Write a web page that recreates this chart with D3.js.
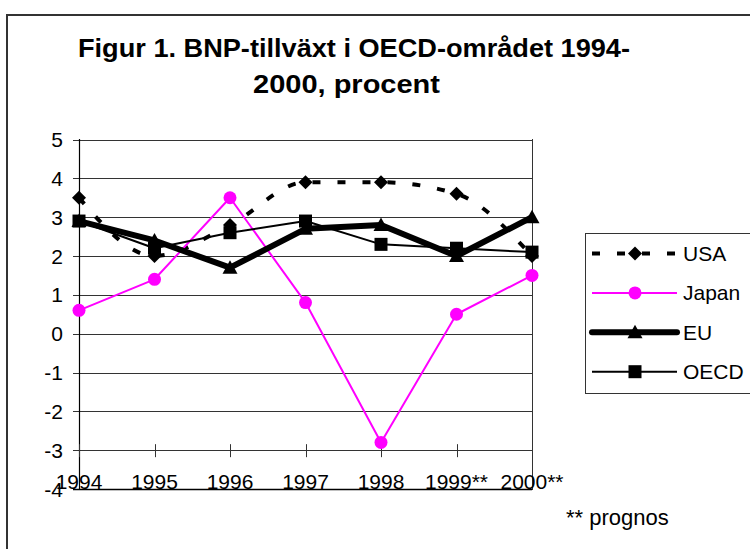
<!DOCTYPE html>
<html>
<head>
<meta charset="utf-8">
<script src="https://cdn.jsdelivr.net/npm/d3@7"></script>
<style>
  html, body { margin: 0; padding: 0; background: #fff; overflow: hidden; }
  svg { display: block; font-family: Arial, "Liberation Sans", sans-serif; }
</style>
</head>
<body>
<svg width="750" height="549"></svg>
<script>
// data
var years = ["1994", "1995", "1996", "1997", "1998", "1999**", "2000**"];
var usa   = [3.5, 2.0, 2.8, 3.9, 3.9, 3.6, 2.0];
var japan = [0.6, 1.4, 3.5, 0.8, -2.8, 0.5, 1.5];
var eu    = [2.9, 2.4, 1.7, 2.7, 2.8, 2.0, 3.0];
var oecd  = [2.9, 2.2, 2.6, 2.9, 2.3, 2.2, 2.1];
var yTicks = [-4, -3, -2, -1, 0, 1, 2, 3, 4, 5];
var titleLines = ["Figur 1. BNP-tillväxt i OECD-området 1994-", "2000, procent"];
var note = "** prognos";

var series = [
  { name: "USA",   values: usa,   color: "#000", width: 4, dash: "8,17", marker: "diamond", smooth: true },
  { name: "Japan", values: japan, color: "#ff00ff", width: 2, dash: null, marker: "circle" },
  { name: "EU",    values: eu,    color: "#000", width: 6, dash: null, marker: "triangle" },
  { name: "OECD",  values: oecd,  color: "#000", width: 2, dash: null, marker: "square" }
];

var svg = d3.select("svg");

// outer chart frame
svg.append("rect")
  .attr("x", 7).attr("y", 15).attr("width", 760).attr("height", 560)
  .attr("fill", "none").attr("stroke", "#333").attr("stroke-width", 2);

// title (two lines, stretched like the original)
svg.append("text")
  .attr("x", 78).attr("y", 57)
  .attr("font-size", 25).attr("font-weight", "bold")
  .attr("textLength", 552).attr("lengthAdjust", "spacingAndGlyphs")
  .text(titleLines[0]);
svg.append("text")
  .attr("x", 253).attr("y", 93)
  .attr("font-size", 25).attr("font-weight", "bold")
  .attr("textLength", 187).attr("lengthAdjust", "spacingAndGlyphs")
  .text(titleLines[1]);

var x = d3.scalePoint().domain(years).range([79, 532]);
var y = d3.scaleLinear().domain([-4, 5]).range([489, 139.5]);

// gridlines + y tick marks
svg.append("g").selectAll("line")
  .data(yTicks)
  .enter().append("line")
  .attr("x1", 73).attr("x2", 532)
  .attr("y1", function(d) { return Math.round(y(d)) + 0.5; })
  .attr("y2", function(d) { return Math.round(y(d)) + 0.5; })
  .attr("stroke", function(d) { return d === -4 ? "#000" : "#333"; })
  .attr("stroke-width", function(d) { return d === -4 ? 1.6 : 1; });

// y labels
svg.append("g").selectAll("text")
  .data(yTicks)
  .enter().append("text")
  .attr("x", 63)
  .attr("y", function(d) { return y(d); })
  .attr("dy", "0.36em")
  .attr("text-anchor", "end")
  .attr("font-size", 21)
  .text(function(d) { return d; });

// plot frame: left axis and right border
svg.append("line")
  .attr("x1", 79.5).attr("x2", 79.5).attr("y1", 139).attr("y2", 490)
  .attr("stroke", "#000").attr("stroke-width", 1.2);
svg.append("line")
  .attr("x1", 532.5).attr("x2", 532.5).attr("y1", 139).attr("y2", 490)
  .attr("stroke", "#333").attr("stroke-width", 1);

// category axis crosses at -3
svg.append("g").selectAll("line")
  .data(years)
  .enter().append("line")
  .attr("x1", function(d) { return Math.round(x(d)) + 0.5; })
  .attr("x2", function(d) { return Math.round(x(d)) + 0.5; })
  .attr("y1", y(-3) - 6).attr("y2", y(-3) + 7)
  .attr("stroke", "#333");

svg.append("g").selectAll("text")
  .data(years)
  .enter().append("text")
  .attr("x", function(d) { return x(d); })
  .attr("y", 489)
  .attr("text-anchor", "middle")
  .attr("font-size", 21)
  .text(function(d) { return d; });

// markers
function drawMarker(g, type, cx, cy, color) {
  if (type === "diamond") {
    g.append("path")
      .attr("d", "M" + cx + "," + (cy - 7) + "L" + (cx + 7) + "," + cy + "L" + cx + "," + (cy + 7) + "L" + (cx - 7) + "," + cy + "Z")
      .attr("fill", color);
  } else if (type === "circle") {
    g.append("circle").attr("cx", cx).attr("cy", cy).attr("r", 6.5).attr("fill", color);
  } else if (type === "triangle") {
    g.append("path")
      .attr("d", "M" + cx + "," + (cy - 7.5) + "L" + (cx + 7.5) + "," + (cy + 6) + "L" + (cx - 7.5) + "," + (cy + 6) + "Z")
      .attr("fill", color);
  } else if (type === "square") {
    g.append("rect").attr("x", cx - 6.5).attr("y", cy - 6.5).attr("width", 13).attr("height", 13).attr("fill", color);
  }
}

series.forEach(function(s) {
  var line = d3.line()
    .x(function(d, i) { return x(years[i]); })
    .y(function(d) { return y(d); })
    .curve(s.smooth ? d3.curveMonotoneX : d3.curveLinear);
  var g = svg.append("g");
  g.append("path")
    .attr("d", line(s.values))
    .attr("fill", "none")
    .attr("stroke", s.color)
    .attr("stroke-width", s.width)
    .attr("stroke-dasharray", s.dash)
    .attr("stroke-linejoin", "round");
  s.values.forEach(function(v, i) {
    drawMarker(g, s.marker, x(years[i]), y(v), s.color);
  });
});

// legend
var lg = svg.append("g");
lg.append("rect")
  .attr("x", 585.5).attr("y", 233.5).attr("width", 175).attr("height", 160)
  .attr("fill", "#fff").attr("stroke", "#333").attr("stroke-width", 1);
series.forEach(function(s, i) {
  var ly = 253.5 + i * 39.4;
  lg.append("line")
    .attr("x1", 592).attr("x2", 677).attr("y1", ly).attr("y2", ly)
    .attr("stroke", s.color).attr("stroke-width", s.width)
    .attr("stroke-dasharray", s.dash)
    .attr("stroke-linecap", s.name === "EU" ? "round" : "butt");
  drawMarker(lg, s.marker, 635, ly, s.color);
  lg.append("text")
    .attr("x", 683).attr("y", ly).attr("dy", "0.36em")
    .attr("font-size", 21)
    .text(s.name);
});

// footnote
svg.append("text")
  .attr("x", 566).attr("y", 525)
  .attr("font-size", 22)
  .text(note);
</script>
</body>
</html>
